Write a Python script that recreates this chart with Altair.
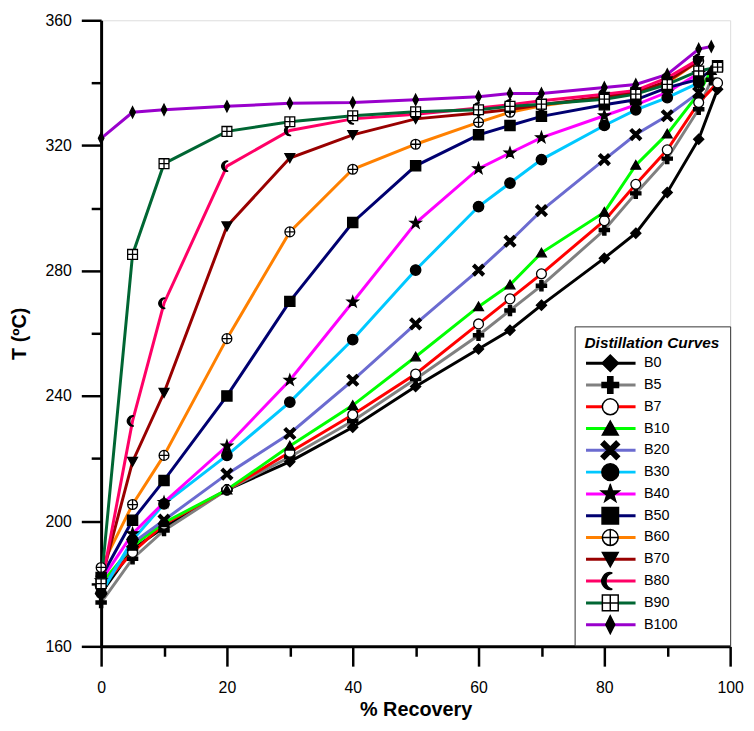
import math
import altair as alt
import pandas as pd

# ---------------- data ----------------
names = ["B0", "B5", "B7", "B10", "B20", "B30", "B40", "B50", "B60", "B70", "B80", "B90", "B100"]
colors = ["#000000", "#808080", "#ff0000", "#00ff00", "#6b6bd0", "#00c8ff", "#ff00ff",
          "#000070", "#ff8000", "#990000", "#ff0066", "#006633", "#9900cc"]
fills = ["black", "black", "white", "black", "black", "black", "black",
         "black", "white", "black", "black", "white", "black"]
outlines = ["black"] * 13

recovery = [0, 5, 10, 20, 30, 40, 50, 60, 65, 70, 80, 85, 90, 95]

b0 = [177, 191, 198, 210, 219, 230, 243, 255, 261, 269, 284, 292, 305, 322]
b5 = [174, 188, 197, 210, 220.5, 232, 245.4, 259.4, 267.3, 275.2, 293, 304.7, 315.8, 331.6]
b7 = [179, 190, 199, 210, 222, 234, 247, 263, 271, 279, 296, 307.6, 318.6, 333.7]
b10 = [180, 192, 199.5, 210, 224, 237, 252.5, 268.5, 275.5, 285.7, 298.7, 313.7, 323.7, 336.6]
b20 = [178, 193, 200.3, 215, 228, 245, 263, 280.2, 289.4, 299.2, 315.5, 323.5, 329.5, 336.9]
b30 = [177, 194, 205.5, 221, 238, 258, 280.2, 300.5, 308, 315.5, 326.4, 331.4, 335.3, 340]
b40 = [181, 196, 206, 224, 245, 270, 295.2, 312.6, 317.6, 322.5, 329.5, 333, 337, 343]
b50 = [182, 200.3, 213, 240, 270.2, 295.4, 313.5, 323.4, 326.4, 329.3, 333, 334.6, 338.5, 341.1]
b60 = [185.2, 205.3, 221, 258.3, 292.4, 312.4, 320.4, 327.4, 330.6, 332.7, 335.5, 337, 340, 347]
b70 = [181, 219, 241, 294.2, 316, 323.4, 328.5, 330.4, 331.5, 333, 335.6, 337, 340.5, 347]
b80 = [179, 232, 269.6, 313.4, 324.8, 328.5, 330, 332, 333, 334.3, 336.4, 337.6, 341.6, 347.5]
b90 = [180, 285.2, 314.2, 324.5, 327.6, 329.5, 330.8, 331.4, 332.5, 333.2, 334.8, 336.4, 339.5, 343.8]
b100 = [322.3, 330.6, 331.4, 332.5, 333.5, 333.7, 334.6, 335.6, 336.6, 336.6, 338.5, 339.5, 342.7, 350.8]
series = [b0, b5, b7, b10, b20, b30, b40, b50, b60, b70, b80, b90, b100]

end_x = {"B0": 98, "B5": 97, "B7": 98, "B10": 97, "B50": 98, "B90": 98, "B100": 97}
end_y = {"B0": 338, "B5": 341, "B7": 340, "B10": 344, "B50": 345.5, "B90": 345, "B100": 351.6}

x_major = [0, 20, 40, 60, 80, 100]
x_minor = [10, 30, 50, 70, 90]
y_major = [160, 200, 240, 280, 320, 360]
y_minor = [180, 220, 260, 300, 340]

rows = []
for name, ys in zip(names, series):
    for xv, yv in zip(recovery, ys):
        rows.append({"series": name, "series_m": name, "rec": xv, "temp": yv})
    if name in end_x:
        rows.append({"series": name, "series_m": name, "rec": end_x[name], "temp": end_y[name]})
df = pd.DataFrame(rows)

# ---------------- marker shapes (SVG paths, legend px / 25) ----------------
S = 25.0


def f(v):
    return f"{v / S:.4f}"


def poly(pts):
    return "M" + "L".join(f"{f(x)},{f(y)}" for x, y in pts) + "Z"


def circ(r):
    return (f"M{f(-r)},0A{f(r)},{f(r)} 0 1,0 {f(r)},0"
            f"A{f(r)},{f(r)} 0 1,0 {f(-r)},0Z")


def plus_pts(a, t):
    return [(-t, -a), (t, -a), (t, -t), (a, -t), (a, t), (t, t), (t, a), (-t, a),
            (-t, t), (-a, t), (-a, -t), (-t, -t)]


def rot45(pts):
    c = math.cos(math.pi / 4)
    return [(x * c - y * c, x * c + y * c) for x, y in pts]


def star(R, r):
    pts = []
    for i in range(10):
        ang = -math.pi / 2 + i * math.pi / 5
        rr = R if i % 2 == 0 else r
        pts.append((rr * math.cos(ang), rr * math.sin(ang)))
    return pts


crescent = (f"M{f(2)},{f(-8.26)}A{f(8.5)},{f(8.5)} 0 1,0 {f(2)},{f(8.26)}"
            f"A{f(8.5)},{f(8.5)} 0 0,1 {f(2)},{f(-8.26)}Z")

shapes = [
    poly([(0, -8.3), (8.3, 0), (0, 8.3), (-8.3, 0)]),                  # B0 diamond
    poly(plus_pts(8.3, 2.6)),                                          # B5 plus
    circ(8),                                                           # B7 open circle
    poly([(0, -7.5), (8, 6.5), (-8, 6.5)]),                            # B10 triangle
    poly(rot45(plus_pts(10.8, 2.3))),                                  # B20 x
    circ(8.5),                                                         # B30 circle
    poly(star(9.5, 3.8)),                                              # B40 star
    poly([(-8.3, -8.3), (8.3, -8.3), (8.3, 8.3), (-8.3, 8.3)]),        # B50 square
    circ(8) + f"M{f(-8)},0H{f(8)}M0,{f(-8)}V{f(8)}",                   # B60 circle-plus
    poly([(-8, -7), (8, -7), (0, 7.5)]),                               # B70 triangle down
    crescent,                                                          # B80 crescent
    poly([(-8, -8), (8, -8), (8, 8), (-8, 8)]) + f"M{f(-8)},0H{f(8)}M0,{f(-8)}V{f(8)}",  # B90
    poly([(0, -9), (4.5, 0), (0, 9), (-4.5, 0)]),                      # B100 thin diamond
]

FONT = "Liberation Sans"
LEG_X, LEG_Y = 478, 309

common_legend = dict(
    orient="none", legendX=LEG_X, legendY=LEG_Y, title="Distillation Curves",
    titleFont=FONT, titleFontSize=15.5, titleFontStyle="italic", titleFontWeight="bold",
    titleColor="black", titlePadding=1, titleAnchor="start",
    labelFont=FONT, labelFontSize=14.5, labelColor="black", labelOffset=7,
    symbolSize=2500, clipHeight=21.3, rowPadding=0, padding=10,
)

line_legend = alt.Legend(symbolType="stroke", symbolStrokeWidth=3,
                         strokeColor="#333333", fillColor="white", **common_legend)
mark_legend = alt.Legend(symbolStrokeWidth=1.5, symbolStrokeColor="black",
                         titleOpacity=0, labelOpacity=0, **common_legend)

x_scale = alt.Scale(domain=[0, 100], nice=False, zero=False)
y_scale = alt.Scale(domain=[160, 360], nice=False, zero=False)

axis_common = dict(grid=False, domainColor="black", tickColor="black", labelColor="black")

x_axis_major = alt.Axis(values=x_major, title="% Recovery", tickSize=20, tickWidth=2.5,
                        domainWidth=3, labelFont=FONT, labelFontSize=16, labelPadding=14,
                        labelFlush=False, titleFont=FONT, titleFontSize=20,
                        titleFontWeight="bold", titleColor="black", titlePadding=4,
                        orient="bottom", **axis_common)
y_axis_major = alt.Axis(values=y_major, title="T (ºC)", tickSize=20, tickWidth=2.5,
                        domainWidth=3, labelFont=FONT, labelFontSize=16, labelPadding=10,
                        labelFlush=False, titleFont=FONT, titleFontSize=20,
                        titleFontWeight="bold", titleColor="black", titlePadding=16,
                        orient="left", **axis_common)
x_axis_minor = alt.Axis(values=x_minor, title=None, labels=False, domain=False, tickSize=10,
                        tickWidth=2.5, orient="bottom", **axis_common)
y_axis_minor = alt.Axis(values=y_minor, title=None, labels=False, domain=False, tickSize=10,
                        tickWidth=2.5, orient="left", **axis_common)

lines = alt.Chart(df).mark_line(strokeWidth=3).encode(
    x=alt.X("rec:Q", scale=x_scale, axis=x_axis_major),
    y=alt.Y("temp:Q", scale=y_scale, axis=y_axis_major),
    color=alt.Color("series:N", sort=names, scale=alt.Scale(range=colors), legend=line_legend),
)

points = alt.Chart(df).mark_point(filled=True, size=960, strokeWidth=1.3,
                                  opacity=1).encode(
    x=alt.X("rec:Q", scale=x_scale, axis=x_axis_minor),
    y=alt.Y("temp:Q", scale=y_scale, axis=y_axis_minor),
    shape=alt.Shape("series_m:N", scale=alt.Scale(domain=names, range=shapes), legend=mark_legend),
    fill=alt.Fill("series_m:N", scale=alt.Scale(domain=names, range=fills), legend=mark_legend),
    stroke=alt.Stroke("series_m:N", scale=alt.Scale(domain=names, range=outlines), legend=mark_legend),
)

chart = alt.layer(lines, points).resolve_axis(x="independent", y="independent").properties(
    width=635, height=632,
    autosize=alt.AutoSizeParams(type="none"),
    padding={"left": 94, "top": 9, "right": 16, "bottom": 74},
).configure_view(stroke=None).configure(font=FONT)

chart.save("out.html", embed_options={"renderer": "svg", "actions": False})
